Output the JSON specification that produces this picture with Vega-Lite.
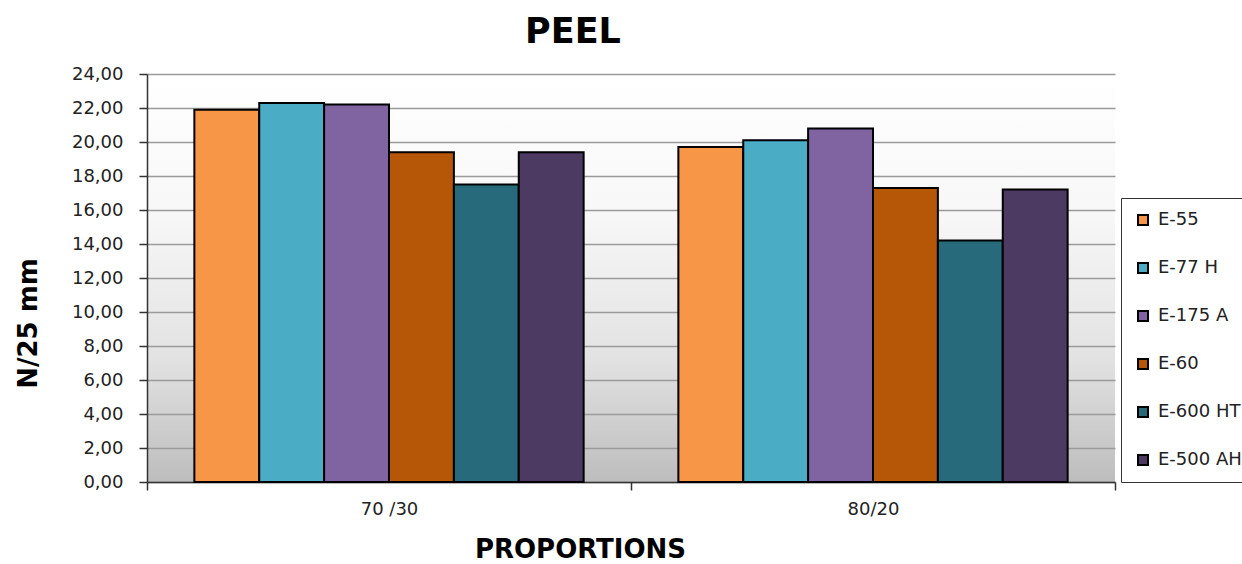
{
  "$schema": "https://vega.github.io/schema/vega-lite/v6.json",
  "autosize": {"type": "none"},
  "padding": {"left": 147, "top": 74, "right": 127, "bottom": 82},
  "width": 968,
  "height": 408,
  "background": "white",
  "view": {
    "stroke": null,
    "fill": {
      "gradient": "linear",
      "x1": 0, "y1": 0, "x2": 0, "y2": 1,
      "stops": [
        {"offset": 0, "color": "#ffffff"},
        {"offset": 0.35, "color": "#f7f7f7"},
        {"offset": 0.7, "color": "#e2e2e2"},
        {"offset": 1, "color": "#bdbdbd"}
      ]
    }
  },
  "title": {
    "text": "PEEL",
    "font": "DejaVu Sans",
    "fontSize": 35,
    "fontWeight": "bold",
    "color": "black",
    "anchor": "middle",
    "frame": "group",
    "dx": -58,
    "baseline": "alphabetic",
    "offset": -13
  },
  "data": {
    "values": [
      {"proportion": "70 /30", "product": "E-55", "peel": 21.9},
      {"proportion": "70 /30", "product": "E-77 H", "peel": 22.3},
      {"proportion": "70 /30", "product": "E-175 A", "peel": 22.2},
      {"proportion": "70 /30", "product": "E-60", "peel": 19.4},
      {"proportion": "70 /30", "product": "E-600 HT", "peel": 17.5},
      {"proportion": "70 /30", "product": "E-500 AH", "peel": 19.4},
      {"proportion": "80/20", "product": "E-55", "peel": 19.7},
      {"proportion": "80/20", "product": "E-77 H", "peel": 20.1},
      {"proportion": "80/20", "product": "E-175 A", "peel": 20.8},
      {"proportion": "80/20", "product": "E-60", "peel": 17.3},
      {"proportion": "80/20", "product": "E-600 HT", "peel": 14.2},
      {"proportion": "80/20", "product": "E-500 AH", "peel": 17.2}
    ]
  },
  "mark": {"type": "bar", "stroke": "black", "strokeWidth": 2, "opacity": 1},
  "encoding": {
    "x": {
      "field": "proportion",
      "type": "nominal",
      "scale": {"paddingInner": 0, "paddingOuter": 0},
      "axis": {
        "title": "PROPORTIONS",
        "labelAngle": 0,
        "tickBand": "extent",
        "domainColor": "#333333",
        "domainWidth": 1.5,
        "tickColor": "#333333",
        "tickWidth": 1.5,
        "tickSize": 8,
        "labelPadding": 10,
        "labelFont": "DejaVu Sans",
        "labelFontSize": 18,
        "labelColor": "#222222",
        "titleFont": "DejaVu Sans",
        "titleFontSize": 26,
        "titleFontWeight": "bold",
        "titleColor": "black",
        "titleX": 433,
        "titleY": 67,
        "titleBaseline": "middle",
        "titleAlign": "center"
      }
    },
    "xOffset": {
      "field": "product",
      "type": "nominal",
      "sort": ["E-55", "E-77 H", "E-175 A", "E-60", "E-600 HT", "E-500 AH"],
      "scale": {"paddingInner": 0, "paddingOuter": 0.73}
    },
    "y": {
      "field": "peel",
      "type": "quantitative",
      "scale": {"domain": [0, 24], "nice": false, "zero": true},
      "axis": {
        "title": "N/25 mm",
        "values": [0, 2, 4, 6, 8, 10, 12, 14, 16, 18, 20, 22, 24],
        "labelExpr": "replace(format(datum.value, '.2f'), '.', ',')",
        "grid": true,
        "gridColor": "#9a9a9a",
        "gridWidth": 1.5,
        "domainColor": "#333333",
        "domainWidth": 1.5,
        "tickColor": "#333333",
        "tickWidth": 1.5,
        "tickSize": 8,
        "labelPadding": 16,
        "labelFont": "DejaVu Sans",
        "labelFontSize": 18,
        "labelColor": "#222222",
        "titleFont": "DejaVu Sans",
        "titleFontSize": 26,
        "titleFontWeight": "bold",
        "titleColor": "black",
        "titleAngle": -90,
        "titleX": -119,
        "titleY": 249,
        "titleBaseline": "middle",
        "titleAlign": "center"
      }
    },
    "color": {
      "field": "product",
      "type": "nominal",
      "scale": {
        "domain": ["E-55", "E-77 H", "E-175 A", "E-60", "E-600 HT", "E-500 AH"],
        "range": ["#F79646", "#4BACC6", "#8064A2", "#B65708", "#276A7C", "#4D3A62"]
      },
      "legend": {
        "title": null,
        "orient": "none",
        "legendX": 974,
        "legendY": 124,
        "padding": 13,
        "rowPadding": 30,
        "strokeColor": "#333333",
        "fillColor": "white",
        "symbolType": "square",
        "symbolSize": 100,
        "symbolStrokeColor": "black",
        "symbolStrokeWidth": 2,
        "symbolOpacity": 1,
        "labelOffset": 6,
        "labelFont": "DejaVu Sans",
        "labelFontSize": 18,
        "labelColor": "#222222",
        "labelLimit": 200
      }
    }
  }
}
